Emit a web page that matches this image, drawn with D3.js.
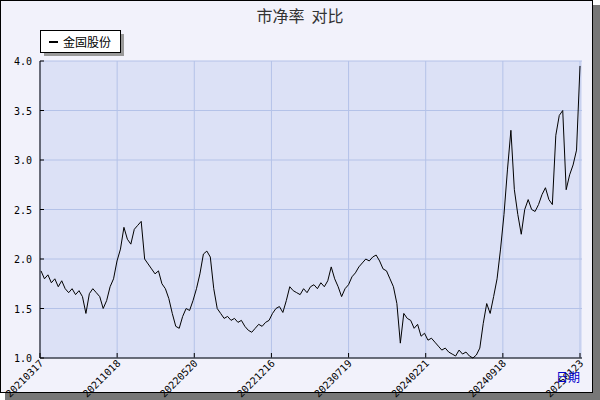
<!DOCTYPE html><html><head><meta charset="utf-8"><script src="https://cdn.jsdelivr.net/npm/d3@7"></script>
<style>body{margin:0;background:#fff}</style></head><body><svg id="c" width="600" height="400"></svg>
<script>
const title="市净率  对比";
const seriesName="金固股份";
const tickLabels=["20210317","20211018","20220520","20221216","20230719","20240221","20240918","20250123"];
const yTicks=[1.0,1.5,2.0,2.5,3.0,3.5,4.0];
const values=[1.88,1.80,1.84,1.76,1.80,1.72,1.78,1.70,1.66,1.70,1.64,1.68,1.62,1.45,1.65,1.70,1.66,1.62,1.50,1.58,1.72,1.80,1.98,2.10,2.32,2.20,2.15,2.30,2.34,2.38,2.00,1.95,1.90,1.85,1.88,1.75,1.70,1.60,1.45,1.32,1.30,1.42,1.50,1.48,1.58,1.70,1.85,2.05,2.08,2.02,1.70,1.50,1.45,1.40,1.42,1.38,1.40,1.36,1.38,1.32,1.28,1.26,1.30,1.34,1.32,1.36,1.38,1.45,1.50,1.52,1.46,1.58,1.72,1.68,1.66,1.64,1.70,1.66,1.72,1.74,1.70,1.76,1.72,1.78,1.92,1.80,1.72,1.62,1.70,1.74,1.82,1.86,1.92,1.96,2.00,1.98,2.02,2.04,1.98,1.90,1.88,1.80,1.72,1.55,1.15,1.45,1.40,1.38,1.30,1.34,1.22,1.25,1.18,1.20,1.16,1.12,1.08,1.10,1.06,1.04,1.02,1.08,1.04,1.06,1.02,1.00,1.03,1.10,1.35,1.55,1.45,1.62,1.80,2.10,2.45,2.90,3.30,2.70,2.45,2.25,2.50,2.60,2.50,2.48,2.55,2.65,2.72,2.60,2.55,3.25,3.45,3.50,2.70,2.85,2.95,3.10,3.95];
const svg=d3.select("#c");
svg.append("rect").attr("x",0.5).attr("y",0.5).attr("width",592).attr("height",392).attr("fill","#f2f2fb").attr("stroke","#000");
svg.append("rect").attr("x",593).attr("y",5).attr("width",7).attr("height",395).attr("fill","#777");
svg.append("rect").attr("x",5).attr("y",393).attr("width",595).attr("height",7).attr("fill","#777");
const m={l:40,r:582,t:61,b:358};
const x=d3.scaleLinear().domain([0,values.length-1]).range([m.l+1,m.r-2]);
const y=d3.scaleLinear().domain([1,4]).range([m.b,m.t]);
svg.append("rect").attr("x",m.l).attr("y",m.t).attr("width",m.r-m.l).attr("height",m.b-m.t).attr("fill","#dce1f6");
const xt=d3.scaleLinear().domain([0,tickLabels.length-1]).range([m.l,580]);
tickLabels.forEach((t,i)=>{const px=xt(i);
 svg.append("line").attr("x1",px).attr("x2",px).attr("y1",m.t).attr("y2",m.b).attr("stroke","#b4c2e8");
 svg.append("line").attr("x1",px).attr("x2",px).attr("y1",m.b-5).attr("y2",m.b).attr("stroke","#000");
 svg.append("text").attr("transform",`translate(${px+4},${m.b+6}) rotate(-45)`).attr("text-anchor","end").attr("font-family","DejaVu Sans Mono").attr("font-size",10).text(t);});
yTicks.forEach(v=>{const py=y(v);
 svg.append("line").attr("x1",m.l).attr("x2",m.r).attr("y1",py).attr("y2",py).attr("stroke","#b4c2e8");
 svg.append("line").attr("x1",m.l).attr("x2",m.l+4).attr("y1",py).attr("y2",py).attr("stroke","#000");
 svg.append("text").attr("x",m.l-8).attr("y",py+4).attr("text-anchor","end").attr("font-family","DejaVu Sans Mono").attr("font-size",10).text(v.toFixed(1));});
svg.append("line").attr("x1",m.l).attr("x2",m.l).attr("y1",m.t).attr("y2",m.b).attr("stroke","#000");
svg.append("line").attr("x1",m.l).attr("x2",m.r).attr("y1",m.b).attr("y2",m.b).attr("stroke","#000");
svg.append("path").datum(values).attr("d",d3.line().x((d,i)=>x(i)).y(d=>y(d))).attr("fill","none").attr("stroke","#000").attr("stroke-width",1);
svg.append("text").attr("x",300).attr("y",22).attr("text-anchor","middle").attr("font-family","Noto Sans CJK SC").attr("font-size",16).attr("fill","#333").attr("xml:space","preserve").text(title);
svg.append("rect").attr("x",44).attr("y",34).attr("width",80).attr("height",22).attr("fill","#999");
svg.append("rect").attr("x",40.5).attr("y",30.5).attr("width",80).attr("height",22).attr("fill","#fff").attr("stroke","#000");
svg.append("line").attr("x1",49).attr("x2",58).attr("y1",42).attr("y2",42).attr("stroke","#000").attr("stroke-width",2);
svg.append("text").attr("x",63).attr("y",47).attr("font-family","Noto Sans CJK SC").attr("font-size",12).text(seriesName);
svg.append("text").attr("x",580).attr("y",382).attr("text-anchor","end").attr("font-family","Noto Sans CJK SC").attr("font-size",12).attr("fill","#0000cc").text("日期");
</script></body></html>
